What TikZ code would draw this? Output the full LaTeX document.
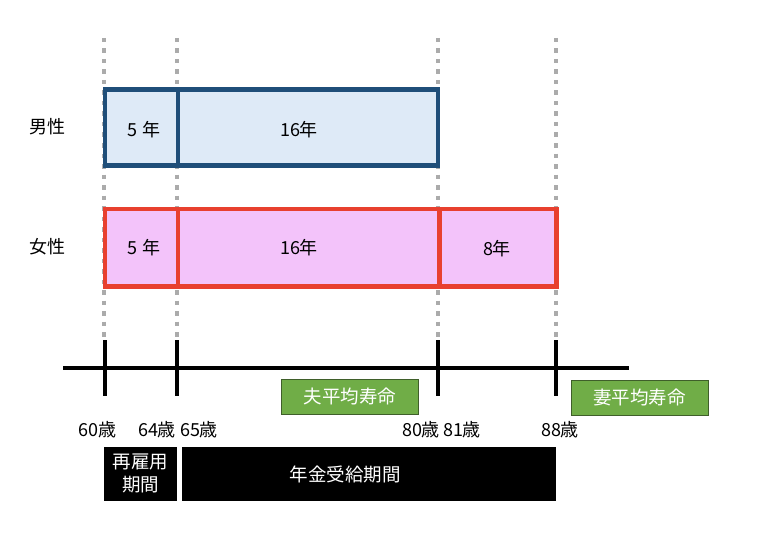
\documentclass[tikz,border=0pt]{standalone}
\usepackage{fontspec}
\setmainfont{Noto Sans CJK JP}
\definecolor{maleline}{HTML}{1F4E79}
\definecolor{malefill}{HTML}{DEEAF7}
\definecolor{femline}{HTML}{E8402F}
\definecolor{femfill}{HTML}{F3C3FA}
\definecolor{lifegreen}{HTML}{70AD47}
\definecolor{lifeedge}{HTML}{3F5F2A}
\definecolor{dotgrey}{HTML}{ABABAB}
\tikzset{
  gridline/.style={dotgrey, line width=4pt, dash pattern=on 4.5pt off 6pt},
  malebox/.style={draw=maleline, fill=malefill, line width=4.5pt, inner sep=0pt},
  fembox/.style={draw=femline, fill=femfill, line width=4.5pt, inner sep=0pt},
  lifebox/.style={draw=lifeedge, fill=lifegreen, line width=0.8pt, minimum width=137pt, minimum height=35pt, inner sep=0pt, text=white, font=\fontsize{18.5}{22}\selectfont},
  blackbox/.style={fill=black, inner sep=0pt, minimum height=54pt},
  whitetext/.style={text=white, font=\fontsize{18.5}{23}\selectfont, align=center, inner sep=0pt},
  lbl/.style={font=\fontsize{18}{22}\selectfont, inner sep=0pt},
  axisline/.style={black, line width=4.5pt},
  tick/.style={black, line width=4pt},
}
\begin{document}
\begin{tikzpicture}[x=1pt,y=-1pt]
\useasboundingbox (0,0) rectangle (764,543);
% dotted guide lines
\foreach \n/\x in {a/104,b/177,c/438,d/556}{
  \coordinate (g\n t) at (\x,38);
  \coordinate (g\n b) at (\x,340);
  \draw[gridline] (g\n t) -- (g\n b);
}
% male bar
\node[malebox, minimum width=73pt, minimum height=76pt] (m1) at (141.5,127.5) {};
\node[malebox, minimum width=260pt, minimum height=76pt] (m2) at (308,127.5) {};
% female bar
\node[fembox, minimum width=73pt, minimum height=77.5pt] (f1) at (141.5,247.75) {};
\node[fembox, minimum width=261.5pt, minimum height=77.5pt] (f2) at (308.75,247.75) {};
\node[fembox, minimum width=117pt, minimum height=77.5pt] (f3) at (498,247.75) {};
% bar labels
\node[lbl] (lm1) at (144,130) {5 年};
\node[lbl] (lm2) at (299,130) {16年};
\node[lbl] (lf1) at (144,248) {5 年};
\node[lbl] (lf2) at (299,248) {16年};
\node[lbl] (lf3) at (497,249) {8年};
\node[lbl] (male) at (47.5,127) {男性};
\node[lbl] (female) at (47.5,247) {女性};
% axis
\coordinate (axL) at (63,368);
\coordinate (axR) at (629,368);
\draw[axisline] (axL) -- (axR);
\foreach \n/\x in {a/105,b/177,c/438,d/556}{
  \coordinate (t\n t) at (\x,340);
  \coordinate (t\n b) at (\x,396);
  \draw[tick] (t\n t) -- (t\n b);
}
% life expectancy boxes
\node[lifebox] (husband) at (350,396.5) {夫平均寿命};
\node[lifebox] (wife) at (639.5,397.5) {妻平均寿命};
% ages
\node[lbl] (a60) at (97.5,430) {60歳};
\node[lbl] (a64) at (157,430) {64歳};
\node[lbl] (a65) at (199,430) {65歳};
\node[lbl] (a80) at (421,430) {80歳};
\node[lbl] (a81) at (462,430) {81歳};
\node[lbl] (a88) at (560,430) {88歳};
% periods
\node[blackbox, minimum width=73pt] (rehire) at (140.5,474) {};
\node[whitetext] (rehiretext) at (140.5,473.5) {再雇用\\期間};
\node[blackbox, minimum width=374pt] (pension) at (369,474) {};
\node[whitetext] (pensiontext) at (345,474) {年金受給期間};
\end{tikzpicture}
\end{document}
